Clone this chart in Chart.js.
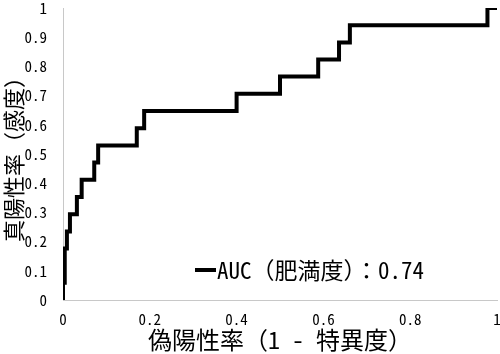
<!DOCTYPE html>
<html>
<head>
<meta charset="utf-8">
<script src="https://cdn.jsdelivr.net/npm/chart.js@4"></script>
<style>
  html, body { margin: 0; padding: 0; background: #fff; }
  #wrap { width: 500px; height: 354px; }
</style>
</head>
<body>
<div id="wrap"><canvas id="chRoc"></canvas></div>
<script>
// ROC curve data
var fpr = [0, 0, 0.004, 0.004, 0.009, 0.009, 0.016, 0.016, 0.032, 0.032, 0.043, 0.043, 0.072, 0.072, 0.081, 0.081,
    0.17, 0.17, 0.187, 0.187, 0.40, 0.40, 0.50, 0.50, 0.588, 0.588, 0.636, 0.636, 0.661, 0.661, 0.978, 0.978, 1];
var tpr = [0, 0.059, 0.059, 0.176, 0.176, 0.235, 0.235, 0.294, 0.294, 0.353, 0.353, 0.412, 0.412, 0.471, 0.471, 0.529,
    0.529, 0.588, 0.588, 0.647, 0.647, 0.706, 0.706, 0.765, 0.765, 0.824, 0.824, 0.882, 0.882, 0.941, 0.941, 1, 1];
var xTickLabels = ['0', '0.2', '0.4', '0.6', '0.8', '1'];
var yTickLabels = ['0', '0.1', '0.2', '0.3', '0.4', '0.5', '0.6', '0.7', '0.8', '0.9', '1'];
var seriesLabel = 'AUC（肥満度）：0.74';
var xTitle = '偽陽性率（1 - 特異度）';
var yTitle = '真陽性率（感度）';

// gothic mono look (half width latin)
var fontFam = '"Noto Sans Mono CJK JP", "Noto Sans CJK JP", monospace';

var points = fpr.map(function (v, i) { return { x: v, y: tpr[i] }; });

// legend drawn inside the plot, lower middle
var insideLegend = {
    id: 'insideLegend',
    afterDraw: function (chart) {
        var ctx = chart.ctx;
        var a = chart.chartArea;
        var ds = chart.data.datasets[0];
        var lx = a.left + 132;
        var ly = a.bottom - 30;
        ctx.save();
        ctx.strokeStyle = ds.borderColor;
        ctx.lineWidth = 4;
        ctx.beginPath();
        ctx.moveTo(lx, ly);
        ctx.lineTo(lx + 21, ly);
        ctx.stroke();
        ctx.fillStyle = '#000';
        ctx.font = '23px ' + fontFam;
        ctx.textBaseline = 'middle';
        ctx.fillText(ds.label, lx + 22, ly);
        ctx.restore();
    }
};

new Chart(document.getElementById('chRoc'), {
    type: 'line',
    data: {
        datasets: [{
            label: seriesLabel,
            data: points,
            borderColor: '#000',
            borderWidth: 4,
            pointRadius: 0,
            tension: 0,
            fill: false
        }]
    },
    options: {
        responsive: true,
        maintainAspectRatio: false,
        animation: false,
        layout: { padding: { top: 8, right: 3, left: 0, bottom: 0 } },
        plugins: { legend: { display: false }, tooltip: { enabled: false } },
        scales: {
            x: {
                type: 'linear',
                min: 0, max: 1,
                grid: { display: false },
                border: { display: true, color: '#c8c8c8', width: 1 },
                ticks: {
                    stepSize: 0.2, color: '#000', font: { family: fontFam, size: 15 }, padding: 2, maxRotation: 0,
                    callback: function (v, i) { return xTickLabels[i]; }
                },
                title: { display: true, text: xTitle, color: '#000', font: { family: fontFam, size: 24 }, padding: { top: 0, bottom: 0 } },
                afterFit: function (s) { s.height = 54; s.paddingLeft = 0; s.paddingRight = 0; }
            },
            y: {
                min: 0, max: 1,
                grid: { display: false },
                border: { display: true, color: '#c8c8c8', width: 1 },
                ticks: {
                    stepSize: 0.1, color: '#000', font: { family: fontFam, size: 15 }, padding: 8,
                    callback: function (v, i) { return yTickLabels[i]; }
                },
                title: { display: true, text: yTitle, color: '#000', font: { family: fontFam, size: 22 }, padding: { top: 0, bottom: 0 } },
                afterFit: function (s) { s.width = 63; s.paddingTop = 0; s.paddingBottom = 0; }
            }
        }
    },
    plugins: [insideLegend]
});
</script>
</body>
</html>
